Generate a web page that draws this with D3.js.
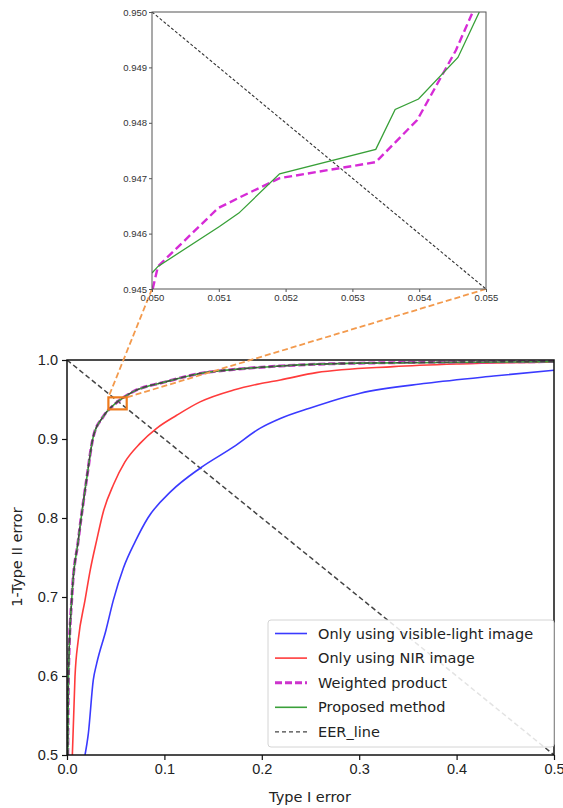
<!DOCTYPE html>
<html>
<head>
<meta charset="utf-8">
<script src="https://cdn.jsdelivr.net/npm/d3@7"></script>
<style>
  body { margin: 0; background: #fff; }
  svg { font-family: "DejaVu Sans", sans-serif; }
</style>
</head>
<body>
<svg id="chart"></svg>
<script>
// main plot values (Type I error, 1-Type II error)
const visibleX = [0.0185, 0.0219, 0.027, 0.0305, 0.040, 0.0476, 0.058, 0.070, 0.083, 0.107, 0.1366, 0.171, 0.198, 0.219, 0.249, 0.301, 0.369, 0.438, 0.5];
const visibleY = [0.5, 0.527, 0.595, 0.616, 0.658, 0.696, 0.737, 0.770, 0.800, 0.834, 0.863, 0.890, 0.9135, 0.926, 0.939, 0.958, 0.9705, 0.9797, 0.987];
const nirX = [0.0055, 0.0082, 0.0116, 0.0185, 0.024, 0.0305, 0.0373, 0.048, 0.0595, 0.075, 0.092, 0.1126, 0.1366, 0.171, 0.198, 0.219, 0.256, 0.335, 0.403, 0.5];
const nirY = [0.5, 0.599, 0.646, 0.696, 0.735, 0.772, 0.808, 0.843, 0.871, 0.8945, 0.9135, 0.930, 0.947, 0.962, 0.970, 0.9747, 0.984, 0.9916, 0.995, 0.9975];
const weightedX = [0.0008, 0.0015, 0.005, 0.0116, 0.020, 0.027, 0.037, 0.050, 0.055, 0.068, 0.102, 0.1366, 0.171, 0.219, 0.3, 0.5];
const weightedY = [0.5, 0.6, 0.7, 0.772, 0.848, 0.903, 0.928, 0.945, 0.950, 0.960, 0.9726, 0.983, 0.988, 0.9924, 0.996, 0.998];
const proposedX = [0.0008, 0.0015, 0.005, 0.0116, 0.020, 0.027, 0.037, 0.050, 0.055, 0.068, 0.102, 0.1366, 0.171, 0.219, 0.3, 0.5];
const proposedY = [0.5, 0.6, 0.7, 0.772, 0.848, 0.903, 0.928, 0.9453, 0.950, 0.960, 0.9726, 0.983, 0.988, 0.9924, 0.996, 0.998];
const eerX = [0, 0.5];
const eerY = [1, 0.5];

// zoomed-in values
const zoomWeightedX = [0.05001, 0.05009, 0.05099, 0.05134, 0.05191, 0.05335, 0.05397, 0.05455, 0.05479];
const zoomWeightedY = [0.945, 0.94541, 0.94646, 0.94667, 0.947, 0.94729, 0.94805, 0.94931, 0.94997];
const zoomProposedX = [0.050, 0.05009, 0.05101, 0.0513, 0.05191, 0.05335, 0.05364, 0.05399, 0.05458, 0.0549];
const zoomProposedY = [0.945288, 0.945408, 0.946128, 0.94637, 0.94708, 0.94752, 0.94824, 0.94843, 0.94918, 0.950];
const zoomEerX = [0.050, 0.055];
const zoomEerY = [0.950, 0.945];

const xTicks = [0.0, 0.1, 0.2, 0.3, 0.4, 0.5];
const yTicks = [0.5, 0.6, 0.7, 0.8, 0.9, 1.0];
const zoomXTicks = [0.050, 0.051, 0.052, 0.053, 0.054, 0.055];
const zoomYTicks = [0.945, 0.946, 0.947, 0.948, 0.949, 0.950];

const legendLabels = ["Only using visible-light image", "Only using NIR image", "Weighted product", "Proposed method", "EER_line"];
const boxX = [0.0425, 0.0613];
const boxY = [0.9375, 0.9527];

const width = 563, height = 808;
const svg = d3.select("#chart").attr("width", width).attr("height", height);

const zip = (xs, ys) => xs.map((x, i) => [x, ys[i]]);

// main axes
const x = d3.scaleLinear([0, 0.5], [67, 554]);
const y = d3.scaleLinear([0.5, 1.0], [755, 360]);
// inset axes
const zx = d3.scaleLinear([0.050, 0.055], [152, 486]);
const zy = d3.scaleLinear([0.945, 0.950], [289, 12]);

const defs = svg.append("defs");
defs.append("clipPath").attr("id", "clipMain").append("rect")
  .attr("x", 67).attr("y", 360).attr("width", 554 - 67).attr("height", 755 - 360);
defs.append("clipPath").attr("id", "clipZoom").append("rect")
  .attr("x", 152).attr("y", 12).attr("width", 486 - 152).attr("height", 289 - 12);

const line = (sx, sy) => d3.line().x(d => sx(d[0])).y(d => sy(d[1]));
const smooth = (sx, sy) => d3.line().curve(d3.curveMonotoneX).x(d => sx(d[0])).y(d => sy(d[1]));

// ---- main plot ----
const main = svg.append("g").attr("clip-path", "url(#clipMain)");
main.append("path").datum(zip(eerX, eerY))
  .attr("d", line(x, y)).attr("fill", "none")
  .attr("stroke", "#444").attr("stroke-width", 1.5).attr("stroke-dasharray", "5,3");
main.append("path").datum(zip(visibleX, visibleY))
  .attr("d", smooth(x, y)).attr("fill", "none").attr("stroke", "#3a3aff").attr("stroke-width", 1.6);
main.append("path").datum(zip(nirX, nirY))
  .attr("d", smooth(x, y)).attr("fill", "none").attr("stroke", "#ff3b3b").attr("stroke-width", 1.6);
main.append("path").datum(zip(weightedX, weightedY))
  .attr("d", smooth(x, y)).attr("fill", "none").attr("stroke", "#cc33cc")
  .attr("stroke-width", 3).attr("stroke-dasharray", "7,3");
main.append("path").datum(zip(proposedX, proposedY))
  .attr("d", smooth(x, y)).attr("fill", "none").attr("stroke", "#3aa03a").attr("stroke-width", 1.6);
main.append("path").datum(zip(proposedX, proposedY))
  .attr("d", smooth(x, y)).attr("fill", "none").attr("stroke", "#444")
  .attr("stroke-width", 1.4).attr("stroke-dasharray", "5,3");

// frame
svg.append("rect").attr("x", 67).attr("y", 360).attr("width", 554 - 67).attr("height", 755 - 360)
  .attr("fill", "none").attr("stroke", "#111").attr("stroke-width", 1.5);

const xAxis = svg.append("g").attr("transform", "translate(0,755)")
  .call(d3.axisBottom(x).tickValues(xTicks).tickFormat(d3.format(".1f")).tickSize(5).tickPadding(4));
const yAxis = svg.append("g").attr("transform", "translate(67,0)")
  .call(d3.axisLeft(y).tickValues(yTicks).tickFormat(d3.format(".1f")).tickSize(5).tickPadding(4));
[xAxis, yAxis].forEach(g => {
  g.select(".domain").remove();
  g.selectAll(".tick line").attr("stroke", "#111").attr("stroke-width", 1.2);
  g.selectAll(".tick text").attr("font-size", 14.5).attr("fill", "#222");
});

svg.append("text").attr("x", 310).attr("y", 802).attr("text-anchor", "middle")
  .attr("font-size", 14.5).attr("fill", "#222").text("Type I error");
svg.append("text").attr("transform", "translate(22,557) rotate(-90)").attr("text-anchor", "middle")
  .attr("font-size", 14.5).attr("fill", "#222").text("1-Type II error");

// legend
const legend = svg.append("g");
legend.append("rect").attr("x", 268).attr("y", 620).attr("width", 286).attr("height", 127)
  .attr("rx", 3).attr("fill", "#fff").attr("fill-opacity", 0.85)
  .attr("stroke", "#d4d4d4").attr("stroke-width", 1);
const legendStyles = [
  { stroke: "#3a3aff", w: 1.6, dash: null },
  { stroke: "#ff3b3b", w: 1.6, dash: null },
  { stroke: "#cc33cc", w: 3, dash: "7,3" },
  { stroke: "#3aa03a", w: 1.6, dash: null },
  { stroke: "#444", w: 1.4, dash: "4,3" }
];
legendLabels.forEach((label, i) => {
  const ly = 633.5 + i * 24.6;
  legend.append("line").attr("x1", 275).attr("x2", 307).attr("y1", ly).attr("y2", ly)
    .attr("stroke", legendStyles[i].stroke).attr("stroke-width", legendStyles[i].w)
    .attr("stroke-dasharray", legendStyles[i].dash);
  legend.append("text").attr("x", 318).attr("y", ly + 5).attr("font-size", 14.5)
    .attr("fill", "#222").text(label);
});

// zoom box + connectors
svg.append("line").attr("x1", zx(0.050)).attr("y1", zy(0.945))
  .attr("x2", x(boxX[0])).attr("y2", y(boxY[1]))
  .attr("stroke", "#f39a4d").attr("stroke-width", 1.8).attr("stroke-dasharray", "6,3");
svg.append("line").attr("x1", zx(0.055)).attr("y1", zy(0.945))
  .attr("x2", x(boxX[1])).attr("y2", y(boxY[1]))
  .attr("stroke", "#f39a4d").attr("stroke-width", 1.8).attr("stroke-dasharray", "6,3");
svg.append("rect").attr("x", x(boxX[0])).attr("y", y(boxY[1]))
  .attr("width", x(boxX[1]) - x(boxX[0])).attr("height", y(boxY[0]) - y(boxY[1]))
  .attr("fill", "none").attr("stroke", "#ee7a1c").attr("stroke-width", 2.2);

// ---- inset ----
svg.append("rect").attr("x", 152).attr("y", 12).attr("width", 486 - 152).attr("height", 289 - 12)
  .attr("fill", "#fff");
const inset = svg.append("g").attr("clip-path", "url(#clipZoom)");
inset.append("path").datum(zip(zoomEerX, zoomEerY))
  .attr("d", line(zx, zy)).attr("fill", "none").attr("stroke", "#333")
  .attr("stroke-width", 1.1).attr("stroke-dasharray", "3,2");
inset.append("path").datum(zip(zoomWeightedX, zoomWeightedY))
  .attr("d", line(zx, zy)).attr("fill", "none").attr("stroke", "#d62bd6")
  .attr("stroke-width", 2.4).attr("stroke-dasharray", "8,4");
inset.append("path").datum(zip(zoomProposedX, zoomProposedY))
  .attr("d", line(zx, zy)).attr("fill", "none").attr("stroke", "#38a038").attr("stroke-width", 1.3);

svg.append("rect").attr("x", 152).attr("y", 12).attr("width", 486 - 152).attr("height", 289 - 12)
  .attr("fill", "none").attr("stroke", "#555").attr("stroke-width", 1);

const zxAxis = svg.append("g").attr("transform", "translate(0,289)")
  .call(d3.axisBottom(zx).tickValues(zoomXTicks).tickFormat(d3.format(".3f")).tickSize(3).tickPadding(2));
const zyAxis = svg.append("g").attr("transform", "translate(152,0)")
  .call(d3.axisLeft(zy).tickValues(zoomYTicks).tickFormat(d3.format(".3f")).tickSize(3).tickPadding(2));
[zxAxis, zyAxis].forEach(g => {
  g.select(".domain").remove();
  g.selectAll(".tick line").attr("stroke", "#555");
  g.selectAll(".tick text").attr("font-size", 9.5).attr("fill", "#333");
});
</script>
</body>
</html>
